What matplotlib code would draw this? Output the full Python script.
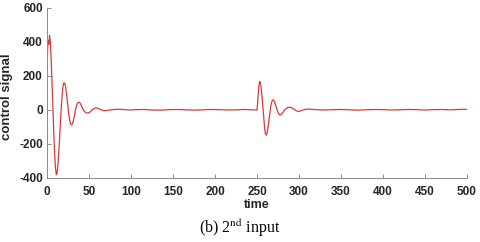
import numpy as np
import matplotlib
matplotlib.use('Agg')
import matplotlib.pyplot as plt

plt.rcParams['axes.unicode_minus'] = False
plt.rcParams['mathtext.fontset'] = 'stix'

# control signal (time, value)
t_first = [0, 1, 2, 3, 4, 5, 6, 7, 8, 9, 10, 11, 12, 13, 14, 15, 16, 17, 18,
           19, 20, 21, 22, 23, 24, 25, 26, 27, 28, 29, 30, 31, 32, 33, 34, 35,
           36, 37, 38, 39, 40, 41, 42, 44, 46, 48, 50, 52, 54, 56, 58, 60, 62,
           64, 66, 68, 70, 74, 78, 82, 86, 90, 95, 100]
u_first = [250, 410, 385, 440, 400, 290, 150, 10, -130, -250, -340, -380, -370,
           -320, -250, -160, -70, 20, 90, 140, 160, 158, 140, 105, 60, 15,
           -30, -62, -82, -88, -84, -70, -48, -22, 4, 24, 38, 45, 46, 42, 34,
           24, 12, -6, -15, -18, -16, -8, 2, 9, 12, 11, 7, 2, -2, -4, -4, -1,
           2, 4, 4, 3, 1, 0]

t_mid = [105, 115, 125, 135, 145, 155, 165, 175, 185, 195, 205, 215, 225,
         235, 245, 250]
u_mid = [2, 3, 0, -1, 2, 3, 1, -1, 1, 3, 2, 0, 1, 3, 1, 0]

t_second = [251, 252, 253, 254, 255, 256, 257, 258, 259, 260, 261, 262, 263,
            264, 265, 266, 267, 268, 269, 270, 271, 272, 273, 274, 275, 276,
            277, 278, 279, 280, 281, 282, 283, 285, 287, 289, 291, 293, 295,
            297, 299, 301, 303, 306, 310, 315, 320]
u_second = [60, 135, 168, 160, 125, 75, 15, -50, -105, -140, -148, -135, -105,
            -65, -25, 10, 38, 55, 60, 56, 45, 30, 14, -2, -15, -24, -29, -29,
            -26, -20, -13, -6, 1, 10, 15, 16, 14, 8, 1, -5, -8, -7, -3, 2, 5,
            4, 2]

t_tail = [330, 340, 350, 360, 370, 380, 390, 400, 410, 420, 430, 440, 450,
          460, 470, 480, 490, 500]
u_tail = [0, 2, 3, 1, -1, 1, 3, 2, 0, 1, 3, 2, 0, 2, 3, 1, 3, 4]

time = t_first + t_mid + t_second + t_tail
signal = u_first + u_mid + u_second + u_tail

fig = plt.figure(figsize=(4.8, 2.42), dpi=100)
ax = fig.add_axes([0.098, 0.2645, 0.875, 0.7025])

ax.plot(time, signal, color='#d43c3c', lw=0.9)

ax.set_xlim(0, 500)
ax.set_ylim(-400, 600)
ax.set_xticks(np.arange(0, 501, 50))
ax.set_yticks(np.arange(-400, 601, 200))

for s in ['top', 'right']:
    ax.spines[s].set_visible(False)
for s in ['left', 'bottom']:
    ax.spines[s].set_color('#8c8c8c')
    ax.spines[s].set_linewidth(0.7)

ax.tick_params(direction='in', length=3, width=0.7, color='#8c8c8c',
               labelsize=8.5, labelcolor='#262626')
ax.tick_params(axis='x', pad=6)
ax.tick_params(axis='y', pad=3)
for lab in ax.get_xticklabels() + ax.get_yticklabels():
    lab.set_fontfamily('Liberation Sans')
    lab.set_fontweight('bold')

ax.set_xlabel('time', fontsize=9, fontweight='bold', family='Liberation Sans',
              color='#262626', labelpad=0.5)
ax.set_ylabel('control signal', fontsize=9.5, fontweight='bold',
              family='Liberation Sans', color='#262626')
ax.yaxis.set_label_coords(-0.08, 0.476)

fig.text(0.5, 1 - 228 / 242, r'(b) 2$^{\mathrm{nd}}$ input', ha='center',
         va='center', fontsize=11.5, family='Liberation Serif', color='black')

fig.savefig('out.png', dpi=100)
